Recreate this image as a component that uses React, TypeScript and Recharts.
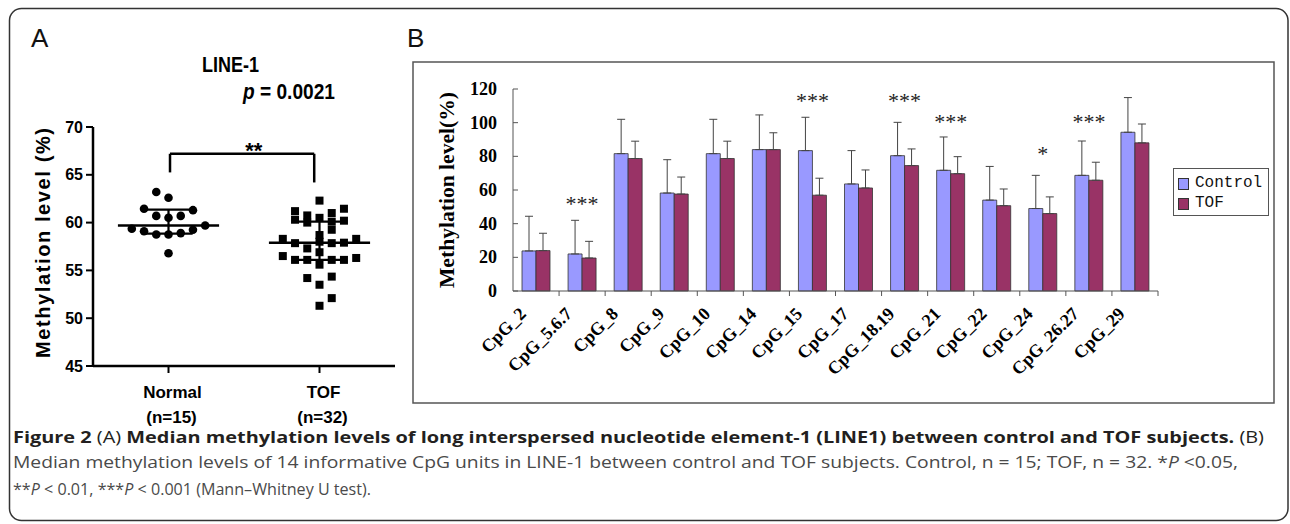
import React from "react";
import {
  ScatterChart,
  Scatter,
  BarChart,
  Bar,
  ErrorBar,
  XAxis,
  YAxis,
  ReferenceLine,
  ReferenceDot,
  Legend,
} from "recharts";

// ---- Panel A: LINE-1 scatter (median with interquartile range) ----
const groupNames = ["Normal", "TOF"];
const groupCounts = ["(n=15)", "(n=32)"];
const groupMedians = [59.7, 57.9];
const groupQ1 = [58.85, 56.1];
const groupQ3 = [61.35, 60.1];
const levelTicks = [45, 50, 55, 60, 65, 70];

// column = horizontal jitter slot around the group centre
const normalCols = [-1, 0, -2, 2, -1, 0, 1, -3, -2, -1, 0, 1, 2, 3, 0];
const normalValues = [63.2, 62.6, 61.45, 61.3, 60.7, 60.5, 60.7, 59.35, 59.1, 58.75, 58.75, 58.9, 59.25, 59.7, 56.8];
const tofCols = [0, 2, -2, -2, -1, 1, 2, -1, 0, 1, 1, 0, -3, -2, -1, 0, 0, 1, 3, 2, -3, -2, -1, 0, 1, 2, 3, -1, 1, 0, 1, 0];
const tofValues = [
  62.3, 61.45, 61.2, 60.3, 60.75, 61.0, 60.2, 60.0, 60.5, 60.1, 59.25, 58.7, 58.3, 57.85, 57.3, 58.0,
  56.9, 57.85, 58.3, 57.9, 56.5, 56.1, 56.1, 55.6, 56.1, 56.1, 56.3, 54.2, 54.35, 53.5, 52.1, 51.3,
];

// ---- Panel B: CpG units ----
const cpgSites = ["CpG_2", "CpG_5.6.7", "CpG_8", "CpG_9", "CpG_10", "CpG_14", "CpG_15", "CpG_17", "CpG_18.19", "CpG_21", "CpG_22", "CpG_24", "CpG_26.27", "CpG_29"];
const controlMeans = [23.8, 22, 81.6, 58.2, 81.6, 84, 83.4, 63.6, 80.4, 71.7, 54, 49, 68.7, 94.3];
const tofMeans = [24, 19.6, 78.7, 57.6, 78.7, 84, 56.9, 61.2, 74.5, 69.7, 50.7, 46, 65.8, 88];
const controlUpper = [44.4, 42, 102, 78, 102, 104.6, 103.2, 83.4, 100.2, 91.5, 74, 68.7, 89.1, 114.9];
const tofUpper = [34.3, 29.5, 89, 67.7, 89, 94, 67, 71.9, 84.4, 79.8, 60.6, 55.9, 76.5, 99.2];
const percentTicks = [0, 20, 40, 60, 80, 100, 120];

const starSites = ["CpG_5.6.7", "CpG_15", "CpG_18.19", "CpG_21", "CpG_24", "CpG_26.27"];
const starMarks = ["***", "***", "***", "***", "*", "***"];
const starLevels = [52, 113.5, 113.5, 101, 82, 101];

const narrow = "'Liberation Sans Narrow', 'Arial Narrow', 'Liberation Sans', Arial, sans-serif";
const sans = "'Liberation Sans', Arial, sans-serif";
const serif = "'Liberation Serif', 'Times New Roman', serif";
const mono = "'Liberation Mono', 'Courier New', monospace";
const captionFont = "'Open Sans', 'Noto Sans', sans-serif";

const JITTER = 0.162;
const normalPoints = normalValues.map((v, i) => ({ x: 1 + normalCols[i] * JITTER, y: v }));
const tofPoints = tofValues.map((v, i) => ({ x: 3 + tofCols[i] * JITTER, y: v }));
const groupX = [1, 3];

const cpgData = cpgSites.map((name, i) => ({
  name,
  control: controlMeans[i],
  tof: tofMeans[i],
  controlErr: [0, +(controlUpper[i] - controlMeans[i]).toFixed(1)],
  tofErr: [0, +(tofUpper[i] - tofMeans[i]).toFixed(1)],
}));

const B_PLOT_W = 645;
const HALF_BAND = B_PLOT_W / cpgSites.length / 2;

const GroupTick = ({ x, y, payload }: any) => {
  const idx = payload.value === 1 ? 0 : 1;
  return (
    <g fontFamily={narrow} fontWeight="bold" fontSize={17} fill="#000">
      <text x={Number(x) + 4} y={Number(y) + 23} textAnchor="middle">{groupNames[idx]}</text>
      <text x={Number(x) + 3} y={Number(y) + 48} textAnchor="middle">{groupCounts[idx]}</text>
    </g>
  );
};

const PercentTick = ({ x, y, payload }: any) => {
  const tx = Number(x);
  const ty = Number(y);
  return (
    <g>
      <line x1={tx + 16} x2={tx + 21} y1={ty} y2={ty} stroke="#555" />
      <text x={tx} y={ty + 6} textAnchor="end" fontFamily={serif} fontWeight="bold" fontSize={18} fill="#000">
        {payload.value}
      </text>
    </g>
  );
};

const SiteTick = ({ x, y, payload }: any) => {
  const tx = Number(x);
  const ty = Number(y);
  return (
    <g>
      <line x1={tx + HALF_BAND} x2={tx + HALF_BAND} y1={ty} y2={ty + 5} stroke="#555" />
      <g transform={`translate(${tx - 9},${ty + 24}) rotate(-45)`}>
        <text x={0} y={0} textAnchor="end" fontFamily={serif} fontWeight="bold" fontSize={18} fill="#000">
          {payload.value}
        </text>
      </g>
    </g>
  );
};

const LegendBox = () => (
  <div style={{ width: 96, height: 48, border: "1px solid #555", background: "#fff", boxSizing: "border-box", padding: "5px 0 0 4px" }}>
    {[
      ["Control", "#9999ff"],
      ["TOF", "#993366"],
    ].map(([label, color]) => (
      <div key={label} style={{ display: "flex", alignItems: "center", height: 19, marginBottom: 1 }}>
        <span style={{ display: "inline-block", width: 9, height: 10, background: color, border: "1px solid #333", marginRight: 6 }} />
        <span style={{ fontFamily: mono, fontSize: 16, color: "#111", lineHeight: "19px" }}>{label}</span>
      </div>
    ))}
  </div>
);

export default function App() {
  return (
    <div style={{ position: "absolute", left: 0, top: 0, width: 1290, height: 524, background: "#fff", overflow: "hidden" }}>
      {/* frame, panel letters, titles and caption */}
      <svg width={1290} height={524} style={{ position: "absolute", left: 0, top: 0 }}>
        <rect x={9.5} y={8.5} width={1278.5} height={512} rx={12} fill="none" stroke="#333" strokeWidth={1.5} />
        <text x={31} y={47} fontFamily={sans} fontSize={26} fill="#111">A</text>
        <text x={407} y={47} fontFamily={sans} fontSize={26} fill="#111">B</text>
        <text x={202} y={72} fontFamily={narrow} fontWeight="bold" fontSize={22} fill="#000" textLength={57} lengthAdjust="spacingAndGlyphs">LINE-1</text>
        <text x={243} y={99} fontFamily={narrow} fontWeight="bold" fontSize={22} fill="#000" textLength={92} lengthAdjust="spacingAndGlyphs">
          <tspan fontStyle="italic">p</tspan> = 0.0021
        </text>
        <text
          transform="translate(43,243) rotate(-90)"
          textAnchor="middle"
          dominantBaseline="central"
          fontFamily={sans}
          fontWeight="bold"
          fontSize={20}
          textLength={230}
          lengthAdjust="spacing"
          fill="#000"
        >
          Methylation level (%)
        </text>
        <rect x={413} y={62} width={861} height={341} fill="none" stroke="#555" strokeWidth={1.5} />
        <text
          transform="translate(447,190) rotate(-90)"
          textAnchor="middle"
          dominantBaseline="central"
          fontFamily={serif}
          fontWeight="bold"
          fontSize={20}
          textLength={196}
          lengthAdjust="spacingAndGlyphs"
          fill="#000"
        >
          Methylation level(%)
        </text>
        <text x={13} y={443} fontFamily={captionFont} fontSize={16.5} fill="#231f20" textLength={1251} lengthAdjust="spacingAndGlyphs">
          <tspan fontWeight="bold">Figure 2</tspan> (A) <tspan fontWeight="bold">Median methylation levels of long interspersed nucleotide element-1 (LINE1) between control and TOF subjects.</tspan> (B)
        </text>
        <text x={13} y={468} fontFamily={captionFont} fontSize={16.5} fill="#4a4a4a" textLength={1225} lengthAdjust="spacingAndGlyphs">
          Median methylation levels of 14 informative CpG units in LINE-1 between control and TOF subjects. Control, n = 15; TOF, n = 32. *<tspan fontStyle="italic">P</tspan> &lt;0.05,
        </text>
        <text x={13} y={495} fontFamily={captionFont} fontSize={16.5} fill="#4a4a4a" textLength={358} lengthAdjust="spacingAndGlyphs">
          **<tspan fontStyle="italic">P</tspan> &lt; 0.01, ***<tspan fontStyle="italic">P</tspan> &lt; 0.001 (Mann–Whitney U test).
        </text>
      </svg>

      {/* Panel A */}
      <div style={{ position: "absolute", left: 0, top: 0 }}>
        <ScatterChart width={420} height={430} margin={{ top: 127, right: 25, bottom: 0, left: 0 }}>
          <XAxis
            type="number"
            dataKey="x"
            domain={[0, 4]}
            ticks={groupX}
            interval={0}
            height={64}
            tickSize={7}
            axisLine={{ stroke: "#000", strokeWidth: 2.5 }}
            tickLine={{ stroke: "#000", strokeWidth: 2 }}
            tick={<GroupTick />}
          />
          <YAxis
            type="number"
            dataKey="y"
            domain={[45, 70]}
            ticks={levelTicks}
            interval={0}
            width={93}
            tickSize={7}
            tickMargin={3}
            axisLine={{ stroke: "#000", strokeWidth: 2.5 }}
            tickLine={{ stroke: "#000", strokeWidth: 2 }}
            tick={{ fontFamily: narrow, fontWeight: "bold", fontSize: 16, fill: "#000" }}
          />
          {groupX.map((gx, i) => (
            <ReferenceLine key={`m${i}`} segment={[{ x: gx - 0.67, y: groupMedians[i] }, { x: gx + 0.67, y: groupMedians[i] }]} stroke="#000" strokeWidth={2.5} />
          ))}
          {groupX.map((gx, i) => (
            <ReferenceLine key={`u${i}`} segment={[{ x: gx - 0.32, y: groupQ3[i] }, { x: gx + 0.32, y: groupQ3[i] }]} stroke="#000" strokeWidth={2.2} />
          ))}
          {groupX.map((gx, i) => (
            <ReferenceLine key={`l${i}`} segment={[{ x: gx - 0.32, y: groupQ1[i] }, { x: gx + 0.32, y: groupQ1[i] }]} stroke="#000" strokeWidth={2.2} />
          ))}
          {groupX.map((gx, i) => (
            <ReferenceLine key={`v${i}`} segment={[{ x: gx, y: groupQ1[i] }, { x: gx, y: groupQ3[i] }]} stroke="#000" strokeWidth={2.2} />
          ))}
          {/* significance bracket */}
          <ReferenceLine segment={[{ x: 1.02, y: 65.25 }, { x: 1.02, y: 67.2 }]} stroke="#000" strokeWidth={2.5} />
          <ReferenceLine segment={[{ x: 1.02, y: 67.2 }, { x: 2.93, y: 67.2 }]} stroke="#000" strokeWidth={2.5} />
          <ReferenceLine segment={[{ x: 2.93, y: 67.2 }, { x: 2.93, y: 64.2 }]} stroke="#000" strokeWidth={2.5} />
          <ReferenceDot
            x={2.13}
            y={67.6}
            r={0}
            fill="none"
            stroke="none"
            label={{ value: "**", position: "center", fontFamily: sans, fontWeight: "bold", fontSize: 22, fill: "#000" }}
          />
          <Scatter
            data={normalPoints}
            isAnimationActive={false}
            shape={(p: any) => <circle cx={p.cx} cy={p.cy} r={4.3} fill="#000" />}
          />
          <Scatter
            data={tofPoints}
            isAnimationActive={false}
            shape={(p: any) => <rect x={p.cx - 4} y={p.cy - 4} width={8} height={8} fill="#000" />}
          />
        </ScatterChart>
      </div>

      {/* Panel B */}
      <div style={{ position: "absolute", left: 413, top: 62 }}>
        <BarChart width={861} height={341} data={cpgData} margin={{ top: 27, right: 116, bottom: 0, left: 0 }} barSize={14} barGap={0}>
          <XAxis
            dataKey="name"
            interval={0}
            height={112}
            tickSize={0}
            tickMargin={0}
            axisLine={{ stroke: "#555" }}
            tickLine={false}
            tick={<SiteTick />}
          />
          <YAxis
            domain={[0, 120]}
            ticks={percentTicks}
            interval={0}
            width={100}
            tickSize={0}
            tickMargin={16}
            axisLine={{ stroke: "#555" }}
            tickLine={false}
            tick={<PercentTick />}
          />
          <Legend layout="vertical" align="center" verticalAlign="middle" content={<LegendBox />} wrapperStyle={{ left: 760, top: 106, width: 96 }} />
          <Bar dataKey="control" name="Control" fill="#9999ff" stroke="#333" strokeWidth={0.8} isAnimationActive={false}>
            <ErrorBar dataKey="controlErr" width={4} stroke="#444" strokeWidth={1} />
          </Bar>
          <Bar dataKey="tof" name="TOF" fill="#993366" stroke="#333" strokeWidth={0.8} isAnimationActive={false}>
            <ErrorBar dataKey="tofErr" width={4} stroke="#444" strokeWidth={1} />
          </Bar>
          {starSites.map((site, i) => (
            <ReferenceDot
              key={site}
              x={site}
              y={starLevels[i]}
              r={0}
              fill="none"
              stroke="none"
              label={{ value: starMarks[i], position: "center", fontFamily: serif, fontSize: 22, fill: "#222" }}
            />
          ))}
        </BarChart>
      </div>
    </div>
  );
}
